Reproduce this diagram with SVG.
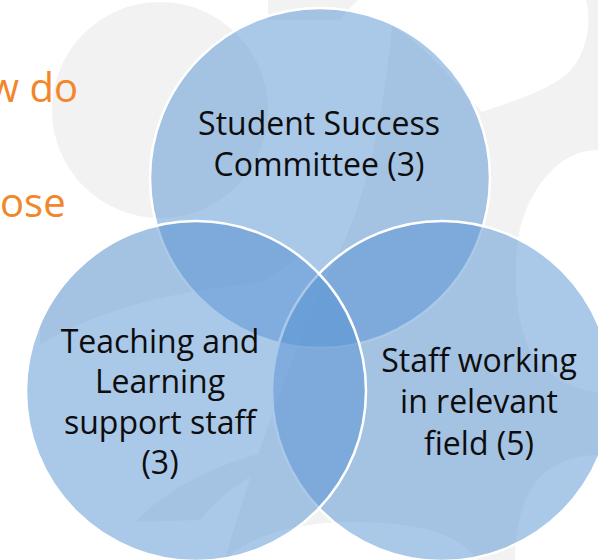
<svg xmlns="http://www.w3.org/2000/svg" width="598" height="560" viewBox="0 0 598 560">
  <style>
    .swirl { fill: #f2f2f2; }
    .set { fill: #5591d1; fill-opacity: 0.5; stroke: #ffffff; stroke-width: 2.5; }
    .lbl { font-family: "Open Sans", "Noto Sans", sans-serif; font-size: 32px; fill: #0d0d0d; text-anchor: middle; }
    .head { font-family: "Open Sans", "Noto Sans", sans-serif; font-size: 40px; fill: #f2862a; }
  </style>
  <defs>
    <clipPath id="clip-left">
      <circle cx="196" cy="391" r="170"/>
    </clipPath>
  </defs>

  <!-- page background with soft grey swirls -->
  <rect width="598" height="560" fill="#ffffff"/>
  <g id="backdrop">
    <circle class="swirl" cx="160" cy="110" r="108"/>
    <path class="swirl" d="M 268,0 L 358,0 C 350,8 345,12 340,20 L 268,20 Z"/>
    <path class="swirl" d="M 392,26 C 425,45 452,80 482,112 C 525,97 565,85 578,60 C 590,38 590,15 586,0 L 598,0 L 598,150 C 560,150 532,185 520,228 C 512,270 515,320 530,350 C 550,380 575,390 598,392 L 598,455 C 565,455 540,470 528,495 C 518,515 515,540 515,560 L 478,560 C 455,530 410,522 350,522 C 300,522 250,535 225,560 C 250,470 300,330 340,250 C 370,190 385,100 392,26 Z"/>
    <path class="swirl" d="M 135,522 C 175,480 245,450 320,442 C 270,462 225,488 200,520 Z"/>
    <path class="swirl" clip-path="url(#clip-left)" d="M 40,345 C 100,308 180,290 260,283 L 310,250 L 310,200 L 40,200 Z"/>
  </g>

  <!-- title text running off the left edge -->
  <text class="head" x="78" y="102" text-anchor="end">w do</text>
  <text class="head" x="0" y="217">ose</text>

  <!-- three overlapping sets -->
  <g id="student-success-committee">
    <circle class="set" cx="320" cy="178" r="170"/>
    <text class="lbl" x="319" y="135">Student Success</text>
    <text class="lbl" x="319" y="176">Committee (3)</text>
  </g>

  <g id="staff-relevant-field">
    <circle class="set" cx="442" cy="391" r="170"/>
    <text class="lbl" x="479" y="372">Staff working</text>
    <text class="lbl" x="479" y="413">in relevant</text>
    <text class="lbl" x="479" y="455">field (5)</text>
  </g>

  <g id="teaching-learning-support">
    <circle class="set" cx="196" cy="391" r="170"/>
    <text class="lbl" x="160" y="353">Teaching and</text>
    <text class="lbl" x="160" y="393">Learning</text>
    <text class="lbl" x="160" y="434">support staff</text>
    <text class="lbl" x="160" y="474">(3)</text>
  </g>
</svg>
